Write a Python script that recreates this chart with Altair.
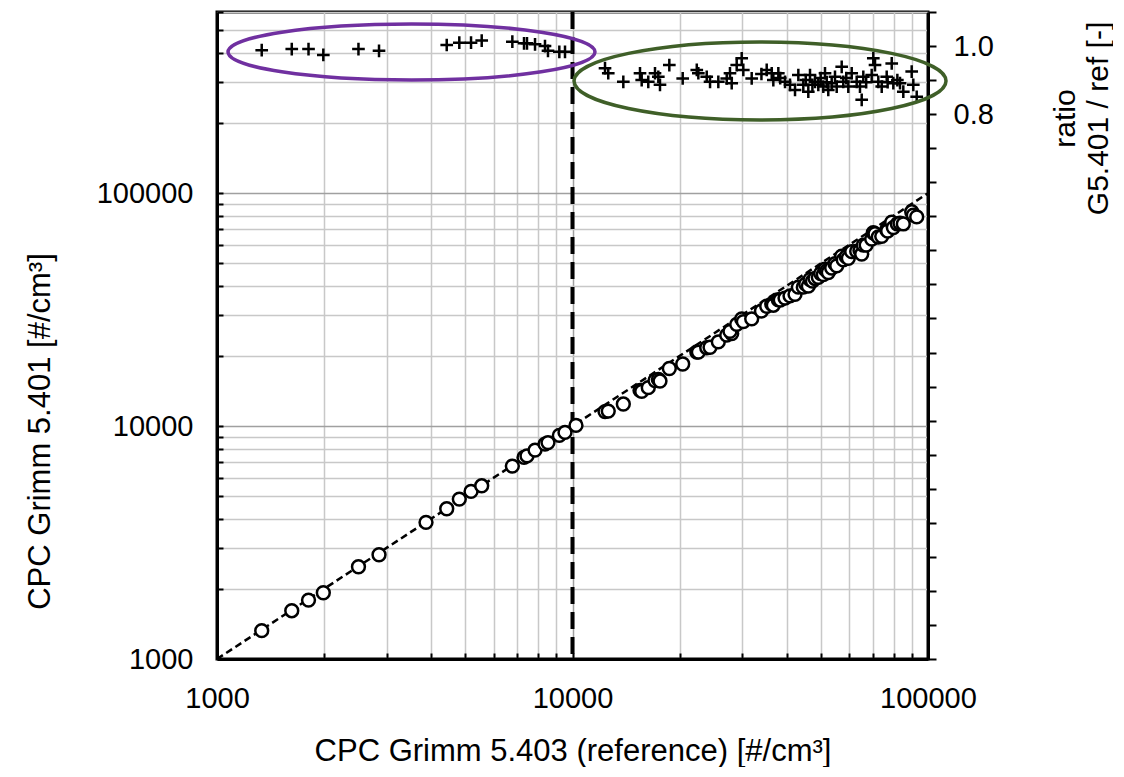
import altair as alt
import pandas as pd

FONT = "Liberation Sans"

# ---- data ----
# reference counter (x), Grimm 5.401 (y, circles), ratio G5.401/ref (crosses)
ref_low = [1336, 1623, 1809, 1991, 2500, 2856, 3872, 4428, 4804, 5183, 5554,
           6773, 7305, 7447, 7845, 8368, 8532, 9182, 9526]
g5401_low = [1323, 1612, 1791, 1925, 2489, 2803, 3861, 4416, 4861, 5245, 5543,
             6735, 7338, 7450, 7889, 8369, 8500, 9122, 9397]
ratio_low = [0.988, 0.991, 0.991, 0.974, 0.991, 0.986, None, 1.003, 1.010, 1.010, 1.016,
             1.013, 1.008, 1.008, 1.005, 1.000, 0.986, 0.983, 0.983]

ref_high = [10228, 12344, 12606, 13898, 15484, 15655, 16337, 17064, 17434, 17624, 18722,
            20417, 22366, 22594, 23855, 24372, 25715, 27155, 28044, 27733, 28967,
            29920, 30233, 31921, 34000, 35180, 36340, 36720, 37930, 38400, 39610,
            40910, 42260, 43180, 44590, 45300, 46060, 46570, 47300, 48100, 49140,
            49900, 50760, 51320, 51900, 52420, 53590, 54750, 55360, 57180, 57770,
            58900, 59680, 61010, 63010, 64370, 65090, 65770, 67000, 69440, 70170,
            70950, 72480, 74100, 76530, 77000, 79060, 79880, 82000, 83420, 85220,
            89980, 90920, 92950]
g5401_high = [10070, 11542, 11598, 12439, 14245, 14090, 14622, 15699, 15865, 15615, 17674,
              18477, 20800, 20786, 21708, 21813, 23015, 24575, 24987, 25514, 27345,
              28843, 28117, 28889, 31212, 32717, 33433, 33048, 34896, 34790, 35451,
              36246, 36808, 39510, 39507, 40770, 39888, 42612, 41908, 43050, 43538,
              45209, 44720, 47214, 46399, 45658, 47749, 49823, 48772, 53692, 51704,
              53363, 52578, 56129, 56394, 56710, 54806, 59851, 59898, 63538, 67644,
              66977, 64870, 65282, 69642, 68838, 75028, 71173, 73800, 74327, 73801,
              83232, 80555, 79100]
ratio_high = [None, 0.935, 0.920, 0.895, 0.920, 0.900, 0.895, 0.920, 0.910, 0.886, 0.944,
              0.905, 0.930, 0.920, 0.910, 0.895, 0.895, 0.905, 0.891, 0.920, 0.944,
              0.964, 0.930, 0.905, 0.918, 0.930, 0.920, 0.900, 0.920, 0.906, 0.895,
              0.886, 0.871, 0.915, 0.886, 0.900, 0.866, 0.915, 0.886, 0.895, 0.886,
              0.906, 0.881, 0.920, 0.894, 0.871, 0.891, 0.910, 0.881, 0.939, 0.895,
              0.906, 0.881, 0.920, 0.895, 0.881, 0.842, 0.910, 0.894, 0.915, 0.964,
              0.944, 0.895, 0.881, 0.910, 0.894, 0.949, 0.891, 0.900, 0.891, 0.866,
              0.925, 0.886, 0.851]

# 1:1 reference line end points
one_to_one = [1000, 100000]
# vertical separator at
separator = [10000]
# ellipse annotations (centre in data units: ref, ratio)
ellipse_purple = {"ref": [3525], "ratio": [0.9825]}
ellipse_green = {"ref": [33690], "ratio": [0.8974]}

# axis tick values
steps = [1, 2, 3, 4, 5, 6, 7, 8, 9]
decades = [1000, 10000, 100000]
x_ticks = [s * d for d in decades for s in steps if s * d <= 100000]
y_ticks = [s * d for d in decades for s in steps if s * d <= 600000]
ratio_ticks = [-0.8, -0.7, -0.6, -0.5, -0.4, -0.3, -0.2, -0.1, 0.0, 0.1, 0.2, 0.3,
               0.4, 0.5, 0.6, 0.7, 0.8, 0.9, 1.0, 1.1]

df = pd.DataFrame({
    "ref": ref_low + ref_high,
    "g": g5401_low + g5401_high,
    "ratio": ratio_low + ratio_high,
})
df_line = pd.DataFrame({"ref": one_to_one, "g": one_to_one})
df_sep = pd.DataFrame({"ref": separator})

major_test = "datum.value == 1000 || datum.value == 10000 || datum.value == 100000"

x_axis = alt.Axis(
    values=x_ticks,
    labelExpr=f"({major_test}) ? format(datum.value, 'd') : ''",
    labelFont=FONT, labelFontSize=29, labelColor="black",
    labelPadding=31, labelFlush=False, labelOverlap=False,
    tickSize={"expr": "-6"}, tickColor="black", tickWidth=2,
    domainColor="black", domainWidth=3,
    grid=True, gridWidth=1.5,
    gridColor={"condition": {"test": major_test, "value": "#a0a0a0"}, "value": "#c8c8c8"},
    title="CPC Grimm 5.403 (reference) [#/cm³]",
    titleFont=FONT, titleFontSize=31, titleFontWeight="normal", titleColor="black",
    titlePadding=23,
)
x_scale = alt.Scale(type="log", domain=[1000, 100000], nice=False)
x_enc = alt.X("ref:Q", scale=x_scale, axis=x_axis)

y_axis = alt.Axis(
    values=y_ticks,
    labelExpr=f"({major_test}) ? format(datum.value, 'd') : ''",
    labelFont=FONT, labelFontSize=29, labelColor="black",
    labelPadding=30, labelFlush=False, labelOverlap=False,
    tickSize={"expr": "-6"}, tickColor="black", tickWidth=2,
    domainColor="black", domainWidth=3,
    grid=True, gridWidth=1.5,
    gridColor={"condition": {"test": major_test, "value": "#a0a0a0"}, "value": "#c8c8c8"},
    title="CPC Grimm 5.401 [#/cm³]",
    titleFont=FONT, titleFontSize=31, titleFontWeight="normal", titleColor="black",
    titlePadding=40, titleY=419, titleAlign="center",
)
y_scale = alt.Scale(type="log", domain=[1000, 600000], nice=False)
y_enc = alt.Y("g:Q", scale=y_scale, axis=y_axis)

r_axis = alt.Axis(
    orient="right",
    values=ratio_ticks,
    labelExpr="(abs(datum.value - 1) < 0.001 || abs(datum.value - 0.8) < 0.001) ? format(datum.value, '.1f') : ''",
    labelFont=FONT, labelFontSize=29, labelColor="black",
    labelPadding=17, labelOverlap=False, labelFlush=False,
    tickSize=8, tickColor="black", tickWidth=2,
    domainColor="black", domainWidth=3, grid=False,
    title=["ratio", "G5.401 / ref [-]"],
    titleFont=FONT, titleFontSize=30, titleFontWeight="normal", titleColor="black",
    titleAngle=270, titleAlign="center", titleBaseline="top",
    titleX=122, titleY=106, titleLineHeight=33,
)
r_scale = alt.Scale(domain=[-0.8, 1.1], nice=False, zero=False)
r_enc = alt.Y("ratio:Q", scale=r_scale, axis=r_axis)

sep = alt.Chart(df_sep).mark_rule(color="black", strokeWidth=4, strokeDash=[17, 8]).encode(x=x_enc)

line = alt.Chart(df_line).mark_line(color="black", strokeWidth=2.5, strokeDash=[7, 4]).encode(
    x=x_enc, y=y_enc)

circles = alt.Chart(df).mark_point(
    shape="circle", filled=True, fill="white", stroke="black", strokeWidth=2.5,
    size=165, opacity=1).encode(x=x_enc, y=y_enc)

cross_path = "M -1 0 L 1 0 M 0 -1 L 0 1"
crosses = alt.Chart(df).mark_point(
    shape=cross_path, filled=False, stroke="black", strokeWidth=2.5, size=160,
    opacity=1).encode(x=x_enc, y=r_enc)


def ellipse_path(b):
    k = 0.5523
    return (f"M -1 0 C -1 {-k*b:.4f} {-k:.4f} {-b:.4f} 0 {-b:.4f} "
            f"C {k:.4f} {-b:.4f} 1 {-k*b:.4f} 1 0 "
            f"C 1 {k*b:.4f} {k:.4f} {b:.4f} 0 {b:.4f} "
            f"C {-k:.4f} {b:.4f} -1 {k*b:.4f} -1 0 Z")


purple = alt.Chart(pd.DataFrame(ellipse_purple)).mark_point(
    shape=ellipse_path(28 / 183.5), filled=False, stroke="#7030a0", strokeWidth=3.5,
    size=367 ** 2, opacity=1).encode(x=x_enc, y=r_enc)
green = alt.Chart(pd.DataFrame(ellipse_green)).mark_point(
    shape=ellipse_path(39 / 186), filled=False, stroke="#3f5f28", strokeWidth=3.5,
    size=372 ** 2, opacity=1).encode(x=x_enc, y=r_enc)

left = alt.layer(sep, line, circles)
right = alt.layer(crosses, purple, green)

chart = alt.layer(left, right).resolve_scale(y="independent").properties(
    width=711, height=647,
    autosize=alt.AutoSizeParams(type="none"),
    padding={"left": 209, "top": 4, "right": 185, "bottom": 108},
).configure_view(stroke="black", strokeWidth=3)

chart.save("out.html", embed_options={"renderer": "svg", "actions": False})
